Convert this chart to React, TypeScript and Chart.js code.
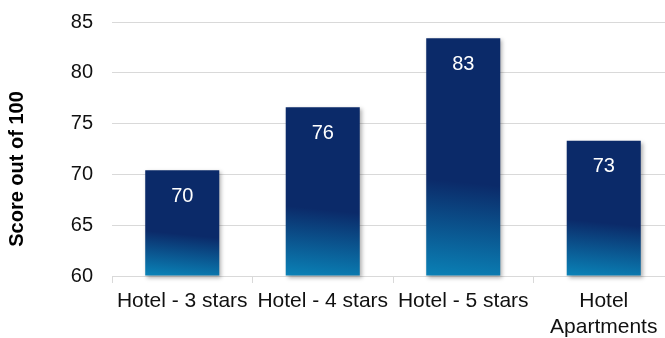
import React, { useEffect, useRef } from "react";
import { Chart, registerables } from "chart.js";

Chart.register(...registerables);

const categories: (string | string[])[] = [
  "Hotel - 3 stars",
  "Hotel - 4 stars",
  "Hotel - 5 stars",
  ["Hotel", "Apartments"],
];
const scores = [70.4, 76.6, 83.4, 73.3];
const valueLabels = ["70", "76", "83", "73"];
const yTicks = [60, 65, 70, 75, 80, 85];
const yTitle = "Score out of 100";

const NAVY = "#0b2a69";
const TEAL = "#0a80b5";
const GRID = "#d9d9d9";
const FONT = "'Liberation Sans', Arial, sans-serif";

export default function App() {
  const ref = useRef<HTMLCanvasElement | null>(null);

  useEffect(() => {
    if (!ref.current) return;

    const shadowPlugin = {
      id: "barShadow",
      beforeDatasetDraw(chart: any) {
        const ctx = chart.ctx;
        ctx.save();
        ctx.shadowColor = "rgba(0,0,0,0.3)";
        ctx.shadowBlur = 4;
        ctx.shadowOffsetX = 2;
        ctx.shadowOffsetY = 2;
      },
      afterDatasetDraw(chart: any) {
        chart.ctx.restore();
      },
    };

    const labelPlugin = {
      id: "valueLabels",
      afterDatasetsDraw(chart: any) {
        const ctx = chart.ctx;
        const meta = chart.getDatasetMeta(0);
        ctx.save();
        ctx.fillStyle = "#ffffff";
        ctx.font = `20px ${FONT}`;
        ctx.textAlign = "center";
        ctx.textBaseline = "middle";
        meta.data.forEach((bar: any, i: number) => {
          ctx.fillText(valueLabels[i], bar.x, bar.y + 26);
        });
        ctx.restore();
      },
    };

    const titlePlugin = {
      id: "yTitle",
      afterDraw(chart: any) {
        const ctx = chart.ctx;
        ctx.save();
        ctx.translate(17, chart.height / 2);
        ctx.rotate(-Math.PI / 2);
        ctx.fillStyle = "#000";
        ctx.font = `bold 20px ${FONT}`;
        ctx.textAlign = "center";
        ctx.textBaseline = "middle";
        ctx.fillText(yTitle, 0, 0);
        ctx.restore();
      },
    };

    const chart = new Chart(ref.current, {
      type: "bar",
      data: {
        labels: categories,
        datasets: [
          {
            data: scores,
            base: 60,
            clip: false as any,
            barPercentage: 0.527,
            categoryPercentage: 1,
            backgroundColor: (c: any) => {
              const ch = c.chart;
              const area = ch.chartArea;
              if (!area || c.type !== "data") return NAVY;
              const ys = ch.scales.y;
              const xs = ch.scales.x;
              const top = ys.getPixelForValue(scores[c.dataIndex]);
              const bottom = area.bottom;
              const cx = xs.getPixelForValue(c.dataIndex);
              const h = bottom - top;
              const g = ch.ctx.createLinearGradient(cx, top, cx - 0.1 * h, bottom);
              g.addColorStop(0, NAVY);
              g.addColorStop(0.6, NAVY);
              g.addColorStop(1, TEAL);
              return g;
            },
          } as any,
        ],
      },
      options: {
        responsive: false,
        maintainAspectRatio: false,
        animation: false,
        devicePixelRatio: 1,
        layout: { padding: { top: 22, left: 0, right: 0, bottom: 0 } },
        plugins: {
          legend: { display: false },
          tooltip: { enabled: false },
          title: { display: false },
        },
        scales: {
          x: {
            offset: true,
            grid: {
              offset: true,
              drawOnChartArea: false,
              drawTicks: true,
              tickLength: 7,
              color: GRID,
            },
            border: { color: GRID },
            ticks: {
              color: "#111",
              padding: 6,
              maxRotation: 0,
              autoSkip: false,
              font: { family: FONT, size: 21, lineHeight: 1.2 },
            },
            afterFit(s: any) {
              s.height = 62;
              s.paddingLeft = 0;
              s.paddingRight = 0;
            },
          },
          y: {
            min: 60,
            max: 85,
            afterBuildTicks(s: any) {
              s.ticks = yTicks.map((v) => ({ value: v }));
            },
            grid: { color: GRID, drawTicks: false },
            border: { display: false },
            ticks: {
              color: "#111",
              padding: 19,
              font: { family: FONT, size: 20 },
            },
            afterFit(s: any) {
              s.width = 112;
              s.paddingTop = 0;
              s.paddingBottom = 0;
            },
          },
        },
      },
      plugins: [shadowPlugin, labelPlugin, titlePlugin],
    });

    return () => chart.destroy();
  }, []);

  return (
    <div style={{ position: "fixed", left: 0, top: 0, width: 674, height: 338, background: "#fff" }}>
      <canvas ref={ref} width={674} height={338} style={{ width: 674, height: 338, display: "block" }} />
    </div>
  );
}
